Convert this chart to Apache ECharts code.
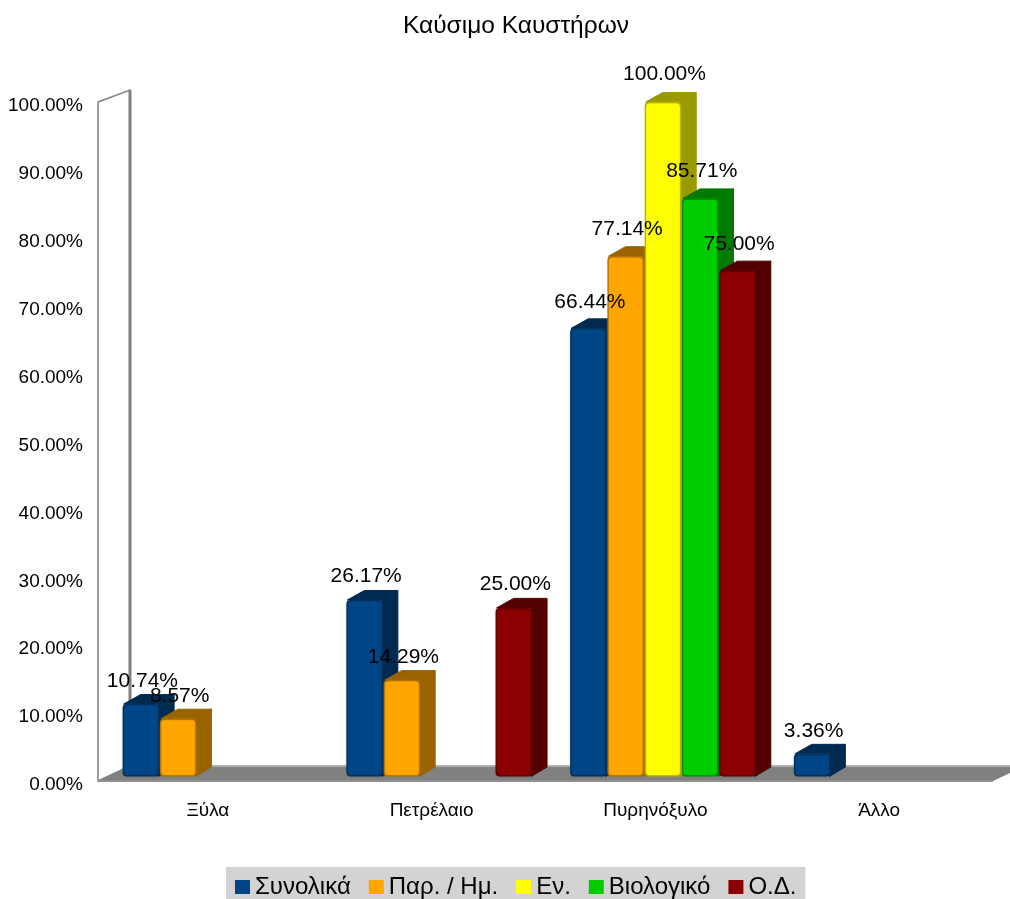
<!DOCTYPE html>
<html>
<head>
<meta charset="utf-8">
<script src="https://cdn.jsdelivr.net/npm/echarts@6/dist/echarts.min.js"></script>
<style>html,body{margin:0;padding:0;background:#fff}#c{width:1010px;height:899px}</style>
</head>
<body>
<div id="c"></div>
<script>
const chartTitle = 'Καύσιμο Καυστήρων';
const categories = ['Ξύλα', 'Πετρέλαιο', 'Πυρηνόξυλο', 'Άλλο'];
const seriesNames = ['Συνολικά', 'Παρ. / Ημ.', 'Εν.', 'Βιολογικό', 'Ο.Δ.'];
const colors = ['#004586', '#ffa500', '#ffff00', '#00cc00', '#8b0000'];
const sideColors = ['#002a50', '#996300', '#999900', '#007a00', '#530000'];
const synolika = [10.74, 26.17, 66.44, 3.36];
const parIm = [8.57, 14.29, 77.14, null];
const en = [null, null, 100.00, null];
const viologiko = [null, null, 85.71, null];
const od = [null, 25.00, 75.00, null];
const seriesValues = [synolika, parIm, en, viologiko, od];

const FONT = '"Liberation Sans", Arial, sans-serif';

function barRenderer(seriesIndex) {
  return function (params, api) {
    const v = api.value(1);
    if (v == null || isNaN(v)) return;
    const cat = api.value(0);
    const band = api.size([1, 0])[0];
    const step = band / 6;
    const w = step - 0.8;
    const cx = api.coord([cat, 0])[0];
    const zero = api.coord([cat, 0])[1];
    const top = api.coord([cat, v])[1];
    const x = cx + (seriesIndex - 2.5) * step + 6;
    const dx = 16, dy = -9.5;
    const front = colors[seriesIndex], dark = sideColors[seriesIndex];
    const edge = { stroke: dark, lineWidth: 1, lineJoin: 'round' };
    return {
      type: 'group',
      children: [
        { type: 'polygon', shape: { points: [[x + w - 1, top], [x + w + dx - 1, top + dy], [x + w + dx - 1, zero + dy], [x + w - 1, zero]] }, style: { fill: dark, ...edge } },
        { type: 'polygon', shape: { points: [[x + 1, top], [x + dx + 2, top + dy], [x + w + dx - 1, top + dy], [x + w - 1, top]] }, style: { fill: dark, ...edge } },
        { type: 'rect', shape: { x: x, y: top, width: w, height: zero - top, r: 4 }, style: { fill: dark } },
        { type: 'rect', shape: { x: x + 1.5, y: top + 1.5, width: w - 3, height: zero - top - 3, r: 3 }, style: { fill: front, shadowColor: front, shadowBlur: 3 } },
        { type: 'text', z2: 100, style: { text: v.toFixed(2) + '%', x: x + w / 2 + 1.5, y: top - 22 - (zero - top) * 0.009, align: 'center', verticalAlign: 'middle', fill: '#000', fontSize: 21, fontFamily: FONT } }
      ]
    };
  };
}

function frameRenderer(params, api) {
  const cs = params.coordSys;
  const L = cs.x, R = cs.x + cs.width, T = cs.y, B = cs.y + cs.height;
  const dx = 32, dy = -15, topDy = -12;
  return {
    type: 'group',
    children: [
      { type: 'polygon', shape: { points: [[L, T], [L + dx, T + topDy], [L + dx, B + dy], [L, B]] }, style: { fill: '#fff', stroke: '#808080', lineWidth: 1.5 } },
      { type: 'line', shape: { x1: L + dx, y1: T + topDy, x2: L + dx, y2: B + dy }, style: { stroke: '#808080', lineWidth: 3 } },
      { type: 'polygon', shape: { points: [[L, B], [L + dx, B + dy], [R + dx, B + dy], [R, B]] }, style: { fill: '#808080' } },
      { type: 'line', shape: { x1: L + dx, y1: B + dy, x2: R + dx, y2: B + dy }, style: { stroke: '#b0b0b0', lineWidth: 2 } },
      { type: 'line', shape: { x1: L, y1: B, x2: R, y2: B }, style: { stroke: '#909090', lineWidth: 2 } }
    ]
  };
}

const chart = echarts.init(document.getElementById('c'), null, { renderer: 'canvas' });
const frameSeries = {
  type: 'custom', name: 'frame', coordinateSystem: 'cartesian2d', xAxisIndex: 0, yAxisIndex: 0,
  data: [[0, 0]], encode: { x: 0, y: 1 }, renderItem: frameRenderer, silent: true, z: 1, clip: false
};
const barSeries = seriesNames.map((name, si) => ({
  type: 'custom', name, coordinateSystem: 'cartesian2d', xAxisIndex: 1, yAxisIndex: 1,
  itemStyle: { color: colors[si] },
  data: seriesValues[si].map((v, i) => [i, v]).filter(d => d[1] != null),
  encode: { x: 0, y: 1 }, renderItem: barRenderer(si), z: 2, clip: false
}));

chart.setOption({
  animation: false,
  backgroundColor: '#fff',
  title: { text: chartTitle, left: 511, top: 9, textAlign: 'center', textStyle: { fontFamily: FONT, fontSize: 24.5, fontWeight: 'normal', color: '#000' } },
  legend: {
    data: seriesNames, left: 226, top: 867, padding: [8, 9, 1, 9], itemGap: 18, itemWidth: 15, itemHeight: 14, icon: 'rect',
    backgroundColor: '#d3d3d3', textStyle: { fontFamily: FONT, fontSize: 24, color: '#000' }, selectedMode: false
  },
  grid: [
    { left: 98, top: 102, width: 895, height: 679 },
    { left: 98, top: 102, width: 895, height: 674.5 }
  ],
  xAxis: [
    { gridIndex: 0, type: 'category', data: categories, axisLine: { show: false }, axisTick: { show: false },
      axisLabel: { color: '#000', fontFamily: FONT, fontSize: 19, margin: 20, padding: [0, 4, 0, 0] } },
    { gridIndex: 1, type: 'category', data: categories, show: false }
  ],
  yAxis: [
    { gridIndex: 0, type: 'value', min: 0, max: 100, interval: 10, axisLine: { show: false }, axisTick: { show: false }, splitLine: { show: false },
      axisLabel: { color: '#000', fontFamily: FONT, fontSize: 19, margin: 15, verticalAlign: 'top', lineHeight: 8, formatter: v => v.toFixed(2) + '%' } },
    { gridIndex: 1, type: 'value', min: 0, max: 100, show: false, splitLine: { show: false } }
  ],
  series: [frameSeries, ...barSeries]
});
</script>
</body>
</html>
